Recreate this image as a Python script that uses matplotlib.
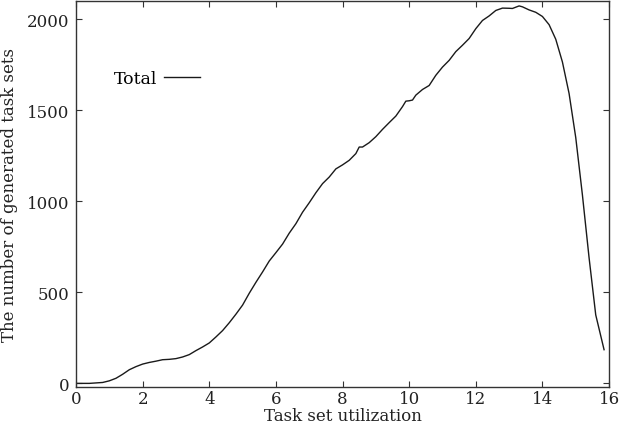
import numpy as np
import matplotlib
matplotlib.use("Agg")
import matplotlib.pyplot as plt

# -----------------------------
# Data
# -----------------------------

utilization = [0.0, 0.4, 0.8, 1.0, 1.2, 1.4, 1.6, 1.8, 2.0, 2.2, 2.4, 2.6, 2.8,
               3.0, 3.2, 3.4, 3.6, 3.8, 4.0, 4.2, 4.4, 4.6, 4.8, 5.0, 5.2, 5.4,
               5.6, 5.8, 6.0, 6.2, 6.4, 6.6, 6.8, 7.0, 7.2, 7.4, 7.6, 7.8, 8.0,
               8.2, 8.4, 8.5, 8.6, 8.8, 9.0, 9.2, 9.4, 9.6, 9.8, 9.9, 10.0, 10.1,
               10.2, 10.4, 10.6, 10.8, 11.0, 11.2, 11.4, 11.6, 11.8, 12.0, 12.2,
               12.4, 12.6, 12.8, 13.0, 13.1, 13.3, 13.4, 13.6, 13.8, 14.0, 14.2,
               14.4, 14.6, 14.8, 15.0, 15.2, 15.4, 15.6, 15.85]

total = [0, 0, 5, 14, 28, 50, 75, 92, 106, 115, 122, 130, 132,
         136, 145, 158, 180, 200, 222, 255, 290, 333, 380, 430, 495, 555,
         612, 672, 718, 765, 825, 877, 940, 992, 1047, 1097, 1133, 1178, 1200,
         1225, 1262, 1298, 1298, 1322, 1355, 1395, 1432, 1468, 1520, 1550, 1552, 1556,
         1583, 1614, 1636, 1692, 1737, 1774, 1822, 1857, 1894, 1948, 1993,
         2018, 2048, 2061, 2060, 2059, 2073, 2068, 2051, 2038, 2015, 1970,
         1890, 1765, 1592, 1350, 1035, 690, 376, 185]

x_ticks = [0, 2, 4, 6, 8, 10, 12, 14, 16]
y_ticks = [0, 500, 1000, 1500, 2000]

# -----------------------------
# Figure
# -----------------------------

plt.rcParams['font.family'] = ['DejaVu Serif']
plt.rcParams['font.size'] = 12

fig = plt.figure(figsize=(6.22, 4.35), dpi=100)
ax = fig.add_axes([0.1222, 0.108, 0.857, 0.8874])

ax.plot(utilization, total, color='#1a1a1a', linewidth=1.0, label='Total')

ax.set_xlim(0, 16)
ax.set_ylim(-20, 2100)
ax.set_xticks(x_ticks)
ax.set_yticks(y_ticks)

ax.tick_params(direction='in', top=True, right=True, length=4, width=0.8,
               colors='#333333', labelcolor='#222222', labelsize=12)
ax.tick_params(axis='x', pad=2)
ax.tick_params(axis='y', pad=5)
for s in ax.spines.values():
    s.set_linewidth(1.0)
    s.set_color('#333333')

ax.set_xlabel('Task set utilization', fontsize=12, color='#222222')
ax.set_ylabel('The number of generated task sets', fontsize=12, color='#222222')
ax.xaxis.set_label_coords(0.5, -0.052)
ax.yaxis.set_label_coords(-0.109, 0.5)

ax.legend(loc='upper left', bbox_to_anchor=(0.058, 0.84), frameon=False,
          markerfirst=False, handlelength=2.05, handletextpad=0.4,
          fontsize=12.5, borderaxespad=0)

fig.savefig('out.png', dpi=100)
